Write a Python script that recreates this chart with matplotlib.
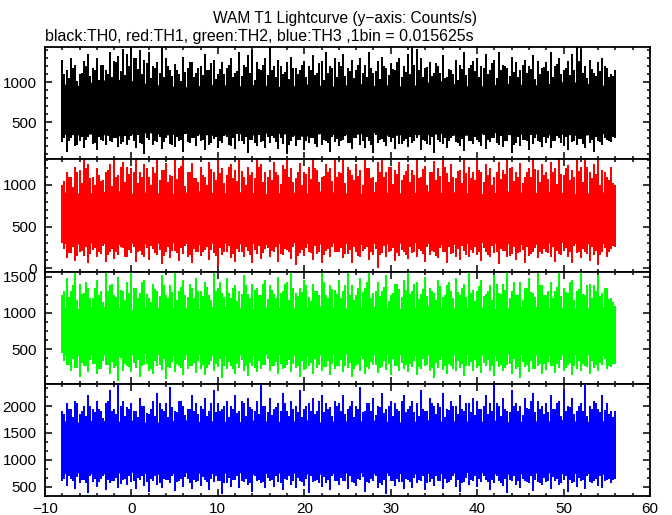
import numpy as np
import matplotlib
matplotlib.use("Agg")
import matplotlib.pyplot as plt
from matplotlib.ticker import MultipleLocator

# time range of the light curve (s)
t_start = -8.0
t_stop = 56.0

# per 0.5 s slot: highest and lowest bin values (counts/s)
th0_upper = [
    1280, 1150, 1300, 1210, 1100, 1260, 1350, 1180, 1300, 1220, 1150, 1380, 1260, 1330, 1420, 1350,
    1440, 1300, 1400, 1280, 1380, 1200, 1250, 1440, 1300, 1150, 1230, 1100, 1320, 1180, 1250, 1120,
    1200, 1350, 1150, 1280, 1100, 1250, 1180, 1300, 1120, 1380, 1220, 1340, 1400, 1250, 1150, 1300,
    1440, 1200, 1280, 1100, 1250, 1320, 1180, 1150, 1270, 1200, 1340, 1120, 1260, 1380, 1200, 1300,
    1250, 1350, 1180, 1280, 1150, 1300, 1220, 1380, 1120, 1260, 1320, 1180, 1240, 1150, 1300, 1200,
    1350, 1440, 1420, 1300, 1180, 1250, 1120, 1200, 1340, 1060, 1150, 1280, 1220, 1380, 1180, 1260,
    1300, 1200, 1350, 1150, 1280, 1380, 1220, 1180, 1320, 1250, 1150, 1280, 1200, 1340, 1260, 1180,
    1250, 1380, 1200, 1300, 1150, 1270, 1350, 1440, 1420, 1200, 1280, 1120, 1250, 1300, 1180, 1100,
    1150]
th0_lower = [
    250, 130, 300, 200, 260, 180, 320, 230, 150, 280, 210, 260, 300, 190, 250, 220,
    330, 180, 240, 100, 280, 210, 250, 160, 300, 230, 190, 270, 130, 250, 300, 200,
    260, 150, 220, 290, 180, 240, 310, 200, 160, 260, 230, 120, 280, 200, 250, 180,
    240, 300, 170, 230, 100, 260, 200, 280, 150, 240, 300, 190, 220, 260, 130, 250,
    200, 280, 240, 160, 300, 220, 180, 260, 110, 240, 290, 200, 250, 170, 230, 270,
    190, 240, 300, 150, 260, 210, 120, 280, 230, 180, 300, 250, 200, 140, 260, 230,
    280, 200, 160, 250, 300, 220, 190, 260, 110, 240, 200, 280, 150, 230, 260, 190,
    240, 180, 270, 300, 200, 150, 250, 220, 290, 180, 240, 130, 260, 210, 280, 250,
    300]

th1_upper = [
    1000, 1150, 1100, 1210, 1180, 1310, 1250, 1100, 1200, 1050, 1160, 1250, 1310, 1120, 1280, 1220,
    1200, 1310, 1150, 1250, 1100, 1220, 1310, 1180, 1260, 1120, 1300, 1200, 1310, 1150, 1260, 1080,
    1220, 1100, 1280, 1160, 1310, 1200, 1120, 1250, 1180, 1300, 1100, 1220, 1160, 1310, 1250, 1150,
    1180, 1280, 1120, 1240, 1310, 1200, 1080, 1260, 1150, 1220, 1310, 1180, 1100, 1250, 1200, 1300,
    1160, 1310, 1220, 1120, 1250, 1180, 1300, 1200, 1100, 1270, 1310, 1150, 1220, 1180, 1280, 1120,
    1250, 1180, 1310, 1100, 1230, 1160, 1290, 1200, 1310, 1140, 1250, 1080, 1180, 1300, 1220, 1150,
    1310, 1160, 1250, 1200, 1100, 1280, 1180, 1310, 1220, 1150, 1260, 1090, 1200, 1310, 1180, 1250,
    1150, 1280, 1200, 1310, 1120, 1240, 1180, 1300, 1210, 1310, 1160, 1250, 1310, 1180, 1100, 1220,
    1000]
th1_lower = [
    300, 120, 180, 90, 200, 150, 60, 220, 130, 170, 80, 200, 110, 160, 240, 130,
    180, 70, 210, 140, 100, 230, 160, 50, 190, 120, 210, 90, 170, 140, 60, 200,
    150, 220, 100, 180, 30, 160, 200, 120, 80, 190, 140, 210, 60, 170, 110, 230,
    130, 190, 80, 160, 220, 110, 40, 180, 150, 200, 100, 170, 60, 210, 140, 190,
    200, 120, 170, 60, 190, 140, 230, 100, 160, 0, 180, 130, 210, 90, 150, 200,
    110, 180, 140, 210, 70, 160, 200, 120, 190, 60, 170, 140, 100, 210, 130, 180,
    160, 90, 200, 140, 180, 50, 210, 130, 170, 100, 190, 60, 150, 200, 120, 170,
    190, 130, 80, 170, 210, 140, 60, 180, 120, 200, 90, 160, 40, 190, 140, 230,
    250]

th2_upper = [
    1250, 1480, 1300, 1560, 1400, 1280, 1350, 1200, 1450, 1300, 1560, 1380, 1250, 1500, 1300, 1420,
    1560, 1350, 1280, 1460, 1200, 1400, 1300, 1520, 1250, 1380, 1560, 1300, 1450, 1220, 1350, 1480,
    1300, 1420, 1250, 1560, 1350, 1280, 1480, 1200, 1380, 1300, 1520, 1260, 1400, 1350, 1250, 1460,
    1380, 1260, 1500, 1300, 1420, 1560, 1280, 1350, 1450, 1220, 1400, 1300, 1560, 1250, 1380, 1320,
    1450, 1300, 1560, 1380, 1250, 1480, 1350, 1560, 1280, 1420, 1300, 1520, 1250, 1400, 1330, 1460,
    1560, 1300, 1420, 1260, 1500, 1350, 1280, 1450, 1220, 1380, 1300, 1480, 1250, 1400, 1560, 1320,
    1300, 1450, 1260, 1380, 1520, 1280, 1400, 1560, 1300, 1250, 1420, 1350, 1480, 1280, 1560, 1380,
    1250, 1420, 1300, 1560, 1350, 1280, 1460, 1300, 1560, 1250, 1400, 1380, 1520, 1280, 1350, 1200,
    1100]
th2_lower = [
    450, 280, 200, 240, 120, 260, 180, 300, 150, 220, 280, 160, 240, 60, 200, 270,
    180, 240, 120, 280, 200, 150, 260, 210, 90, 240, 180, 270, 140, 220, 260, 170,
    230, 140, 280, 190, 250, 100, 220, 270, 160, 240, 200, 130, 260, 180, 230, 280,
    200, 260, 150, 230, 280, 180, 240, 120, 210, 270, 160, 240, 190, 250, 140, 220,
    260, 180, 240, 120, 270, 200, 150, 230, 280, 170, 250, 210, 140, 260, 190, 230,
    180, 250, 140, 220, 270, 190, 100, 240, 210, 160, 260, 200, 240, 130, 270, 190,
    240, 170, 260, 200, 130, 250, 190, 280, 160, 220, 100, 250, 180, 230, 270, 150,
    210, 260, 170, 240, 190, 280, 140, 230, 200, 260, 150, 240, 190, 280, 220, 250,
    300]

th3_upper = [
    1900, 2050, 1950, 2100, 1850, 2000, 2200, 1950, 2100, 1900, 2050, 2300, 1950, 2400, 2100, 1980,
    2050, 1900, 2150, 2000, 1850, 2100, 2250, 1950, 2050, 2350, 1900, 2100, 2000, 1950, 2200, 2050,
    2000, 2150, 1900, 2300, 2050, 1950, 2100, 2000, 2200, 1900, 2050, 2150, 1950, 2100, 2400, 2000,
    2150, 1950, 2050, 2250, 1900, 2100, 2000, 2300, 1950, 2050, 2150, 1900, 2200, 2050, 1980, 2100,
    2050, 2200, 1950, 2100, 2000, 2350, 1900, 2050, 2150, 2000, 2250, 1950, 2100, 2050, 1900, 2200,
    1950, 2100, 2050, 2300, 1900, 2150, 2000, 2050, 2250, 1950, 2100, 2000, 2200, 1900, 2050, 2150,
    2100, 1950, 2200, 2050, 2400, 2000, 2150, 1900, 2300, 2050, 2000, 2150, 1950, 2250, 2100, 2000,
    2050, 2200, 1950, 2100, 2300, 2000, 2150, 1900, 2050, 2400, 2000, 2100, 1950, 2200, 2050, 1900,
    1900]
th3_lower = [
    600, 520, 640, 450, 560, 620, 380, 580, 500, 640, 430, 560, 600, 480, 620, 540,
    580, 460, 620, 520, 400, 600, 540, 470, 630, 560, 420, 600, 500, 640, 450, 580,
    520, 620, 440, 580, 600, 360, 560, 500, 620, 470, 590, 530, 400, 610, 560, 480,
    600, 500, 580, 430, 620, 540, 470, 600, 520, 380, 580, 620, 490, 560, 440, 600,
    540, 600, 460, 580, 520, 620, 400, 560, 600, 480, 540, 370, 600, 520, 580, 450,
    620, 480, 560, 600, 430, 580, 520, 600, 460, 560, 620, 500, 400, 580, 540, 600,
    500, 580, 620, 440, 560, 600, 520, 380, 600, 540, 470, 610, 560, 420, 590, 530,
    580, 460, 600, 540, 620, 400, 560, 500, 610, 450, 580, 600, 520, 470, 620, 560,
    650]

# the in-between 0.5 s slots (shifted by 0.25 s): smaller excursions
th0_upper2 = [
    1100, 1050, 1180, 1020, 1120, 1200, 1080, 1150, 1030, 1220, 1100, 1060, 1250, 1140, 1090, 1200,
    1300, 1160, 1100, 1240, 1050, 1180, 1120, 1060, 1200, 1080, 1150, 1020, 1130, 1250, 1070, 1180,
    1090, 1150, 1240, 1040, 1170, 1100, 1210, 1060, 1140, 1080, 1190, 1120, 1030, 1160, 1220, 1090,
    1150, 1060, 1200, 1130, 1040, 1180, 1100, 1220, 1070, 1150, 1090, 1240, 1030, 1120, 1180, 1060,
    1200, 1080, 1140, 1050, 1220, 1110, 1070, 1180, 1140, 1040, 1200, 1090, 1160, 1250, 1060, 1130,
    1100, 1210, 1150, 1060, 1190, 1080, 1240, 1120, 1050, 1170, 1100, 1030, 1160, 1090, 1220, 1140,
    1060, 1180, 1100, 1240, 1050, 1150, 1200, 1080, 1130, 1060, 1210, 1120, 1170, 1040, 1100, 1190,
    1140, 1060, 1230, 1100, 1180, 1090, 1150, 1260, 1120, 1050, 1170, 1080, 1140, 1200, 1060, 1080]
th0_lower2 = [
    300, 260, 340, 220, 310, 280, 350, 240, 320, 270, 360, 250, 300, 230, 330, 280,
    260, 340, 230, 300, 360, 270, 320, 250, 340, 220, 310, 280, 350, 240, 300, 330,
    280, 350, 240, 310, 270, 330, 220, 300, 350, 260, 320, 280, 240, 340, 270, 310,
    330, 250, 300, 360, 220, 310, 280, 340, 260, 300, 230, 350, 280, 240, 320, 290,
    270, 330, 240, 300, 350, 260, 310, 220, 340, 280, 250, 320, 300, 360, 230, 290,
    320, 260, 340, 280, 230, 310, 350, 250, 300, 270, 330, 240, 290, 350, 260, 310,
    250, 340, 280, 300, 240, 330, 270, 350, 220, 310, 280, 260, 340, 300, 250, 320,
    300, 270, 330, 240, 310, 350, 260, 290, 230, 340, 280, 320, 250, 300, 270, 310]
th1_upper2 = [
    1050, 1100, 980, 1150, 1020, 1200, 1080, 1000, 1120, 1060, 1180, 990, 1100, 1210, 1040, 1130,
    1160, 1020, 1090, 1200, 1000, 1140, 1060, 1180, 1030, 1110, 1070, 1230, 990, 1150, 1080, 1040,
    1120, 1000, 1190, 1060, 1140, 1020, 1210, 1080, 1050, 1170, 1000, 1120, 1080, 1220, 1030, 1100,
    1060, 1150, 1010, 1190, 1090, 1040, 1160, 1000, 1130, 1070, 1200, 1030, 1110, 1160, 1050, 1090,
    1140, 1020, 1180, 1060, 1110, 1000, 1200, 1080, 1040, 1150, 1090, 1220, 1010, 1130, 1060, 1170,
    1030, 1120, 1080, 1190, 1000, 1150, 1060, 1110, 1210, 1040, 1090, 1170, 1020, 1140, 1080, 1060,
    1180, 1040, 1120, 1000, 1160, 1070, 1130, 1200, 1050, 1100, 1020, 1150, 1090, 1190, 1030, 1120,
    1070, 1160, 1010, 1130, 1200, 1060, 1100, 1170, 1040, 1220, 1080, 1130, 1000, 1150, 1060, 1020]
th1_lower2 = [
    230, 180, 260, 150, 210, 250, 170, 240, 200, 270, 160, 230, 190, 260, 140, 220,
    250, 200, 160, 240, 270, 180, 220, 150, 260, 210, 180, 240, 270, 160, 230, 200,
    190, 260, 220, 150, 240, 200, 270, 170, 230, 190, 250, 160, 220, 270, 180, 240,
    210, 250, 170, 230, 190, 260, 150, 220, 240, 180, 270, 200, 160, 230, 250, 190,
    240, 170, 220, 260, 150, 210, 250, 190, 230, 160, 270, 200, 240, 180, 220, 160,
    260, 190, 230, 170, 250, 210, 150, 240, 200, 260, 180, 230, 270, 160, 220, 250,
    200, 240, 160, 270, 190, 230, 210, 150, 250, 180, 220, 260, 170, 240, 200, 230,
    180, 250, 210, 160, 240, 200, 270, 190, 230, 170, 250, 210, 160, 240, 190, 270]
th2_upper2 = [
    1300, 1220, 1380, 1180, 1260, 1420, 1200, 1340, 1250, 1150, 1300, 1400, 1220, 1320, 1180, 1280,
    1350, 1200, 1420, 1260, 1150, 1330, 1240, 1380, 1200, 1290, 1180, 1360, 1250, 1400, 1210, 1300,
    1240, 1360, 1180, 1300, 1420, 1220, 1280, 1340, 1170, 1260, 1380, 1200, 1320, 1250, 1400, 1190,
    1320, 1200, 1280, 1400, 1180, 1340, 1230, 1290, 1380, 1160, 1300, 1250, 1420, 1210, 1330, 1260,
    1210, 1380, 1250, 1180, 1340, 1290, 1420, 1200, 1300, 1230, 1360, 1170, 1280, 1400, 1220, 1310,
    1260, 1400, 1190, 1330, 1240, 1300, 1180, 1370, 1250, 1420, 1200, 1290, 1350, 1220, 1280, 1160,
    1370, 1230, 1300, 1180, 1400, 1260, 1320, 1200, 1420, 1250, 1180, 1340, 1290, 1220, 1380, 1250,
    1300, 1200, 1360, 1240, 1290, 1420, 1180, 1330, 1260, 1380, 1200, 1300, 1240, 1350, 1190, 1150]
th2_lower2 = [
    330, 280, 360, 240, 310, 270, 350, 300, 230, 340, 280, 320, 260, 370, 290, 250,
    310, 350, 260, 300, 230, 340, 280, 360, 250, 320, 290, 240, 350, 270, 310, 330,
    280, 240, 340, 300, 360, 260, 320, 230, 290, 350, 270, 310, 240, 330, 280, 360,
    260, 320, 290, 240, 350, 300, 270, 330, 230, 310, 360, 280, 250, 340, 300, 270,
    350, 270, 310, 230, 290, 360, 250, 320, 280, 240, 330, 300, 360, 260, 310, 280,
    290, 330, 250, 360, 280, 240, 310, 350, 270, 300, 230, 340, 290, 260, 320, 350,
    270, 310, 350, 260, 330, 280, 240, 300, 360, 250, 320, 280, 340, 230, 300, 290,
    320, 260, 300, 350, 240, 310, 270, 340, 290, 250, 330, 280, 310, 360, 260, 300]
th3_upper2 = [
    1850, 1950, 1800, 2050, 1900, 1820, 2000, 1880, 1950, 1780, 2100, 1900, 1850, 2000, 1820, 1950,
    1900, 1800, 2000, 1870, 1950, 1820, 2050, 1900, 1800, 1980, 1880, 2100, 1830, 1950, 1900, 1860,
    1950, 1820, 2050, 1880, 1900, 2000, 1800, 1950, 1870, 2100, 1820, 1980, 1900, 1850, 2000, 1880,
    1830, 1980, 1900, 2050, 1820, 1950, 1880, 1800, 2000, 1900, 1850, 2100, 1880, 1950, 1820, 2000,
    1900, 1850, 2000, 1800, 1950, 1880, 2050, 1900, 1830, 1980, 1870, 2000, 1820, 1950, 2100, 1880,
    2000, 1880, 1820, 1950, 1900, 2050, 1850, 1980, 1800, 1920, 2000, 1850, 1950, 2050, 1880, 1830,
    1950, 2000, 1850, 1900, 2050, 1820, 1950, 1880, 2000, 1900, 1830, 1970, 2100, 1880, 1950, 1850,
    1880, 1950, 2050, 1820, 1900, 1980, 1850, 2000, 1900, 1820, 1950, 2050, 1880, 1920, 1850, 1800]
th3_lower2 = [
    650, 700, 600, 680, 620, 560, 690, 640, 580, 700, 630, 600, 670, 550, 640, 690,
    600, 660, 700, 580, 640, 690, 560, 650, 620, 700, 590, 640, 680, 560, 630, 600,
    680, 580, 640, 700, 610, 560, 670, 620, 690, 600, 650, 570, 700, 630, 590, 660,
    620, 690, 560, 640, 700, 600, 660, 580, 640, 690, 610, 560, 680, 630, 700, 600,
    660, 600, 700, 570, 640, 680, 590, 650, 700, 560, 630, 690, 600, 650, 580, 640,
    590, 660, 620, 700, 560, 640, 690, 610, 650, 580, 700, 630, 560, 670, 620, 690,
    640, 700, 580, 630, 690, 560, 650, 620, 700, 600, 640, 580, 690, 630, 560, 660,
    610, 680, 640, 560, 700, 620, 590, 660, 630, 690, 560, 640, 700, 600, 650, 620]

# per 2 s slot: level the dense part of the curve stays within
th0_hi = [980, 960, 1020, 1040, 1020, 980, 960, 940, 960, 980, 950, 970, 960, 940, 980, 960, 950,
          990, 960, 970, 940, 1000, 1020, 960, 950, 970, 990, 960, 980, 1010, 1000, 960, 970]
th0_lo = [350, 340, 360, 320, 350, 370, 340, 360, 350, 330, 360, 340, 370, 350, 320, 360, 340,
          350, 370, 330, 350, 340, 360, 330, 350, 370, 340, 360, 340, 350, 330, 360, 350]
th1_hi = [920, 900, 910, 940, 900, 920, 890, 910, 930, 900, 920, 910, 890, 920, 900, 930, 910,
          890, 920, 910, 900, 930, 910, 920, 890, 910, 930, 900, 920, 910, 890, 920, 910]
th1_lo = [300, 290, 310, 280, 300, 290, 310, 300, 280, 310, 290, 300, 280, 310, 300, 290, 310,
          280, 300, 290, 310, 300, 280, 290, 310, 300, 290, 280, 300, 310, 290, 300, 290]
th2_hi = [1080, 1060, 1100, 1080, 1050, 1090, 1070, 1080, 1060, 1100, 1080, 1060, 1090, 1070, 1080, 1100, 1060,
          1080, 1090, 1070, 1060, 1100, 1080, 1070, 1090, 1060, 1080, 1100, 1070, 1080, 1060, 1090, 1070]
th2_lo = [420, 410, 430, 400, 420, 440, 410, 420, 430, 400, 420, 410, 430, 420, 400, 420, 440,
          410, 420, 430, 410, 420, 400, 430, 420, 410, 430, 420, 410, 420, 430, 410, 420]
th3_hi = [1730, 1700, 1750, 1710, 1740, 1690, 1720, 1750, 1710, 1730, 1700, 1740, 1720, 1710, 1750, 1700, 1730,
          1720, 1740, 1710, 1700, 1750, 1720, 1730, 1710, 1740, 1700, 1730, 1720, 1750, 1710, 1730, 1720]
th3_lo = [740, 760, 730, 750, 770, 740, 730, 760, 750, 740, 770, 730, 750, 760, 740, 730, 750,
          770, 740, 760, 730, 750, 740, 760, 770, 740, 730, 750, 760, 740, 750, 730, 740]

colors = ["black", "#ff0000", "#00ff00", "#0000ff"]
ylims = [(40, 1440), (-45, 1310), (17, 1565), (327, 2410)]
minor_steps = [100, 100, 125, 500 / 3]

uppers = [th0_upper, th1_upper, th2_upper, th3_upper]
lowers = [th0_lower, th1_lower, th2_lower, th3_lower]
uppers2 = [th0_upper2, th1_upper2, th2_upper2, th3_upper2]
lowers2 = [th0_lower2, th1_lower2, th2_lower2, th3_lower2]
his = [th0_hi, th1_hi, th2_hi, th3_hi]
los = [th0_lo, th1_lo, th2_lo, th3_lo]

plt.rcParams['font.family'] = ['Liberation Sans', 'DejaVu Sans']
fig = plt.figure(figsize=(6.72, 5.15), dpi=100)

# panel edges in pixels (top, bottom)
panel_px = [(47, 159), (159, 272), (272, 384), (384, 496)]
left = 45 / 672
width = 605 / 672

for i in range(4):
    top, bot = panel_px[i]
    ax = fig.add_axes([left, 1 - bot / 515, width, (bot - top) / 515])

    t_fine = np.linspace(t_start, t_stop, len(uppers[i]))
    t_mid = (t_fine[:-1] + t_fine[1:]) / 2
    t_band = np.linspace(t_start, t_stop, len(his[i]))
    ax.fill_between(t_band, los[i], his[i], color=colors[i], lw=0)
    ax.vlines(t_mid, lowers2[i], uppers2[i], color=colors[i], lw=1.3, antialiased=False)
    ax.vlines(t_fine, lowers[i], uppers[i], color=colors[i], lw=1.3, antialiased=False)

    ax.set_xlim(-10, 60)
    ax.set_ylim(*ylims[i])
    ax.xaxis.set_major_locator(MultipleLocator(10))
    ax.xaxis.set_minor_locator(MultipleLocator(2))
    ax.yaxis.set_major_locator(MultipleLocator(500))
    ax.yaxis.set_minor_locator(MultipleLocator(minor_steps[i]))
    ax.tick_params(which='both', direction='in', top=True, right=True, width=1.1,
                   labelsize=11, color='black')
    ax.tick_params(which='major', length=5)
    ax.tick_params(which='minor', length=2.5)
    ax.tick_params(axis='y', pad=6)
    ax.tick_params(axis='x', pad=4)
    for s in ax.spines.values():
        s.set_linewidth(1.3)
    if i < 3:
        ax.set_xticklabels([])

fig.text(345 / 672, 1 - 18 / 515, "WAM T1 Lightcurve (y\u2212axis: Counts/s)",
         ha='center', va='center', fontsize=11.2)
fig.text(45 / 672, 1 - 37 / 515,
         "black:TH0, red:TH1, green:TH2, blue:TH3 ,1bin = 0.015625s",
         ha='left', va='center', fontsize=11.5)

fig.savefig("out.png", dpi=100)
